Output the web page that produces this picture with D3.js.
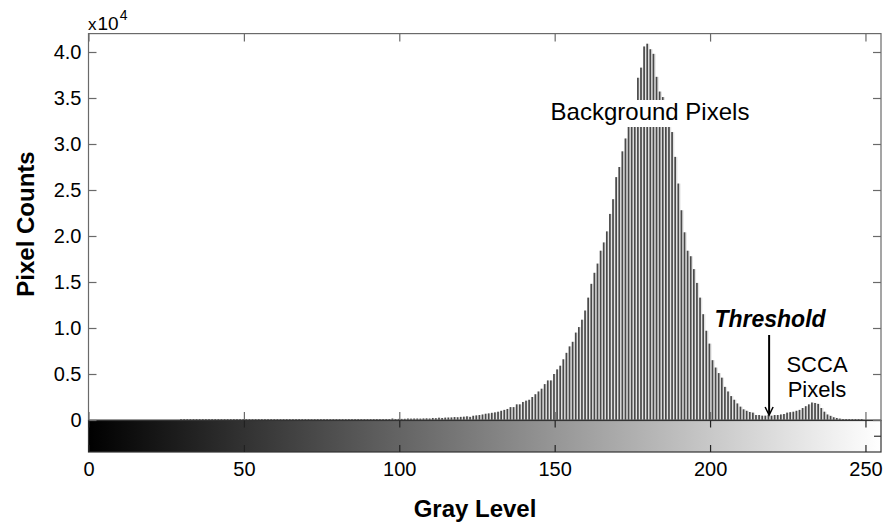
<!DOCTYPE html>
<html>
<head>
<meta charset="utf-8">
<script src="https://cdn.jsdelivr.net/npm/d3@7"></script>
<style>
  body { margin: 0; background: #fff; }
  text { font-family: "Liberation Sans", Arial, sans-serif; fill: #000; }
</style>
</head>
<body>
<svg id="chart" width="883" height="527"></svg>
<script>
// pixel counts per gray level 0..255, in units of 10^4
const pixelCounts = [
  0, 0, 0, 0, 0, 0, 0, 0, 0, 0, 0, 0, 0, 0, 0, 0,
  0, 0, 0, 0, 0, 0, 0, 0, 0, 0, 0, 0, 0, 0, 0.003, 0.003,
  0.003, 0.003, 0.004, 0.003, 0.003, 0.004, 0.003, 0.004, 0.003, 0.004, 0.004, 0.003, 0.004, 0.004, 0.003, 0.004,
  0.004, 0.004, 0.004, 0.005, 0.004, 0.004, 0.005, 0.004, 0.005, 0.005, 0.004, 0.005, 0.005, 0.005, 0.005, 0.006,
  0.005, 0.005, 0.006, 0.005, 0.006, 0.006, 0.006, 0.005, 0.006, 0.006, 0.007, 0.006, 0.006, 0.007, 0.007, 0.006,
  0.007, 0.007, 0.007, 0.008, 0.007, 0.008, 0.008, 0.008, 0.009, 0.008, 0.009, 0.009, 0.010, 0.009, 0.010, 0.010,
  0.011, 0.010, 0.016, 0.011, 0.012, 0.012, 0.013, 0.016, 0.015, 0.016, 0.016, 0.015, 0.017, 0.018, 0.016, 0.022,
  0.020, 0.025, 0.022, 0.026, 0.027, 0.028, 0.032, 0.030, 0.034, 0.036, 0.040, 0.034, 0.046, 0.050, 0.054, 0.060,
  0.068, 0.072, 0.078, 0.083, 0.090, 0.100, 0.110, 0.120, 0.140, 0.140, 0.170, 0.170, 0.196, 0.210, 0.220, 0.250,
  0.28, 0.31, 0.34, 0.39, 0.43, 0.43, 0.50, 0.55, 0.59, 0.66, 0.73, 0.80, 0.85, 0.95, 1.01, 1.09,
  1.19, 1.33, 1.48, 1.60, 1.70, 1.84, 1.93, 2.05, 2.24, 2.40, 2.64, 2.75, 2.92, 3.06, 3.22, 3.33,
  3.44, 3.72, 3.83, 4.06, 4.09, 4.03, 3.98, 3.73, 3.57, 3.51, 3.40, 3.28, 3.13, 2.86, 2.57, 2.28,
  2.04, 1.84, 1.78, 1.64, 1.49, 1.33, 1.15, 0.97, 0.83, 0.65, 0.57, 0.51, 0.46, 0.36, 0.31, 0.26,
  0.22, 0.18, 0.145, 0.116, 0.100, 0.087, 0.080, 0.054, 0.054, 0.047, 0.047, 0.058, 0.047, 0.054, 0.054, 0.060,
  0.065, 0.080, 0.085, 0.090, 0.100, 0.110, 0.130, 0.150, 0.170, 0.190, 0.185, 0.175, 0.130, 0.090, 0.060, 0.045,
  0.030, 0.022, 0.015, 0.010, 0.008, 0.007, 0.006, 0.005, 0.005, 0.004, 0, 0, 0, 0, 0, 0
];
const grayLevels = pixelCounts.map((d, i) => i);
const xTicks = [0, 50, 100, 150, 200, 250];
const yTicks = [0, 0.5, 1.0, 1.5, 2.0, 2.5, 3.0, 3.5, 4.0];
const thresholdLevel = 219;

const svg = d3.select("#chart");

const x = d3.scaleLinear().domain([0, 255]).range([88.5, 881]);
const y = d3.scaleLinear().domain([0, 4.2]).range([420, 33.6]);
const cbTop = 420.5, cbBottom = 452;
const step = x(1) - x(0);

// colorbar: a gradient with one stop per gray level
const grad = svg.append("defs").append("linearGradient")
  .attr("id", "graybar")
  .attr("gradientUnits", "userSpaceOnUse")
  .attr("x1", x(0)).attr("x2", x(255)).attr("y1", 0).attr("y2", 0);
grad.selectAll("stop")
  .data(grayLevels)
  .join("stop")
  .attr("offset", d => d / 255)
  .attr("stop-color", d => d3.rgb(d, d, d));

svg.append("rect")
  .attr("x", x(0)).attr("y", cbTop)
  .attr("width", x(255) - x(0)).attr("height", cbBottom - cbTop)
  .attr("fill", "url(#graybar)");

// histogram bars
const bars = svg.append("g")
  .selectAll("g")
  .data(grayLevels.filter(d => pixelCounts[d] > 0))
  .join("g");

bars.append("rect")
  .attr("x", d => x(d) - step / 2)
  .attr("y", d => Math.min(y(pixelCounts[d]), y(0) - 1))
  .attr("width", step)
  .attr("height", d => Math.max(y(0) - y(pixelCounts[d]), 1))
  .attr("fill", "#e4e4e4");

bars.append("rect")
  .attr("x", d => x(d) - step / 2)
  .attr("y", d => Math.min(y(pixelCounts[d]), y(0) - 1))
  .attr("width", 1.7)
  .attr("height", d => Math.max(y(0) - y(pixelCounts[d]), 1))
  .attr("fill", "#4a4a4a");

// frames
svg.append("rect")
  .attr("x", x(0)).attr("y", y(4.2))
  .attr("width", x(255) - x(0)).attr("height", y(0) - y(4.2))
  .attr("fill", "none").attr("stroke", "#6a6a6a").attr("stroke-width", 1.2);

svg.append("rect")
  .attr("x", x(0)).attr("y", cbTop)
  .attr("width", x(255) - x(0)).attr("height", cbBottom - cbTop)
  .attr("fill", "none").attr("stroke", "#333").attr("stroke-width", 1.2);

function styleAxis(g, color) {
  g.select(".domain").remove();
  g.selectAll(".tick line").attr("stroke", color).attr("stroke-width", 1.2);
  g.selectAll("text").attr("font-size", 20).attr("font-family", null).attr("fill", "#000");
}

// main axes ticks
svg.append("g")
  .attr("transform", `translate(${x(0)},0)`)
  .call(d3.axisLeft(y).tickValues(yTicks).tickSize(-8).tickPadding(7)
    .tickFormat(d => d === 0 ? "0" : d.toFixed(1)))
  .call(g => styleAxis(g, "#6a6a6a"));

svg.append("g")
  .attr("transform", `translate(${x(255)},0)`)
  .call(d3.axisRight(y).tickValues(yTicks).tickSize(-8).tickFormat(""))
  .call(g => styleAxis(g, "#6a6a6a"));

svg.append("g")
  .attr("transform", `translate(0,${y(0)})`)
  .call(d3.axisBottom(x).tickValues(xTicks).tickSize(-8).tickFormat(""))
  .call(g => styleAxis(g, "#6a6a6a"));

svg.append("g")
  .attr("transform", `translate(0,${y(4.2)})`)
  .call(d3.axisTop(x).tickValues(xTicks).tickSize(-8).tickFormat(""))
  .call(g => styleAxis(g, "#6a6a6a"));

// colorbar ticks and labels
svg.append("g")
  .attr("transform", `translate(0,${cbTop})`)
  .call(d3.axisTop(x).tickValues(xTicks).tickSize(-7).tickFormat(""))
  .call(g => styleAxis(g, "#222"));

svg.append("g")
  .attr("transform", `translate(0,${cbBottom})`)
  .call(d3.axisBottom(x).tickValues(xTicks).tickSize(-7).tickPadding(10))
  .call(g => styleAxis(g, "#222"));

svg.append("line")
  .attr("x1", x(255)).attr("x2", x(255) - 7)
  .attr("y1", (cbTop + cbBottom) / 2).attr("y2", (cbTop + cbBottom) / 2)
  .attr("stroke", "#333").attr("stroke-width", 1.2);

// exponent label
const expo = svg.append("text").attr("x", 88).attr("y", 30);
expo.append("tspan").attr("font-size", 17).text("x");
expo.append("tspan").attr("font-size", 19).attr("dx", 1).text("10");
expo.append("tspan").attr("font-size", 14).attr("dx", 1).attr("dy", -10).text("4");

// axis titles
svg.append("text")
  .attr("x", 475).attr("y", 517)
  .attr("text-anchor", "middle")
  .attr("font-size", 24).attr("font-weight", "bold")
  .text("Gray Level");

svg.append("text")
  .attr("transform", "translate(34,224) rotate(-90)")
  .attr("text-anchor", "middle")
  .attr("font-size", 24).attr("font-weight", "bold")
  .text("Pixel Counts");

// annotations
svg.append("rect")
  .attr("x", 548).attr("y", 100).attr("width", 204).attr("height", 27)
  .attr("fill", "#fff");
svg.append("text")
  .attr("x", 650).attr("y", 120)
  .attr("text-anchor", "middle")
  .attr("font-size", 24)
  .text("Background Pixels");

svg.append("text")
  .attr("x", 770).attr("y", 327)
  .attr("text-anchor", "middle")
  .attr("font-size", 23).attr("font-weight", "bold").attr("font-style", "italic")
  .text("Threshold");

const ax = x(thresholdLevel);
svg.append("line")
  .attr("x1", ax).attr("x2", ax)
  .attr("y1", 335).attr("y2", 414)
  .attr("stroke", "#000").attr("stroke-width", 2);
svg.append("path")
  .attr("d", `M${ax - 4},${407} L${ax},${415} L${ax + 4},${407}`)
  .attr("fill", "none").attr("stroke", "#000").attr("stroke-width", 1.5);

const scca = svg.append("text").attr("text-anchor", "middle").attr("font-size", 22);
scca.append("tspan").attr("x", 817).attr("y", 372).text("SCCA");
scca.append("tspan").attr("x", 817).attr("y", 397).text("Pixels");
</script>
</body>
</html>
